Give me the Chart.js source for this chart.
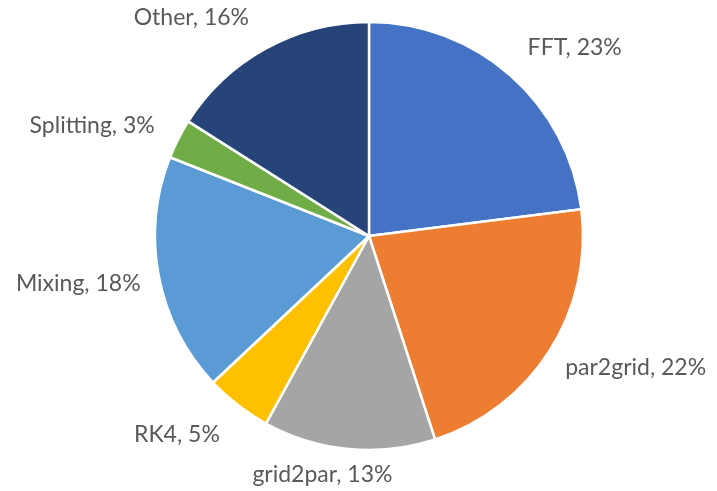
<!DOCTYPE html>
<html>
<head>
<meta charset="utf-8">
<script src="https://cdn.jsdelivr.net/npm/chart.js@4"></script>
<style>
  html, body { margin: 0; padding: 0; background: #fff; }
  #wrap { width: 717px; height: 491px; }
</style>
</head>
<body>
<div id="wrap"><canvas id="pie"></canvas></div>
<script>
const labels = ['FFT', 'par2grid', 'grid2par', 'RK4', 'Mixing', 'Splitting', 'Other'];
const shares = [23, 22, 13, 5, 18, 3, 16];
const colors = ['#4472C4', '#ED7D31', '#A5A5A5', '#FFC000', '#5B9BD5', '#70AD47', '#264478'];

// label nudges away from the plain radial spot (Excel "best fit" placement)
const nudges = [[47, -8], [64, 3], [-24, 0], [-45, 9], [-55, 3], [-63, -1], [-62, -8]];

const outsideLabels = {
  id: 'outsideLabels',
  afterDatasetsDraw(chart) {
    const { ctx } = chart;
    const meta = chart.getDatasetMeta(0);
    ctx.save();
    ctx.font = '23px Lato';
    ctx.fillStyle = '#595959';
    ctx.textAlign = 'center';
    ctx.textBaseline = 'middle';
    meta.data.forEach((arc, i) => {
      const mid = (arc.startAngle + arc.endAngle) / 2;
      const r = arc.outerRadius + 26;
      const x = arc.x + Math.cos(mid) * r + nudges[i][0];
      const y = arc.y + Math.sin(mid) * r + nudges[i][1];
      ctx.fillText(`${labels[i]}, ${shares[i]}%`, x, y);
    });
    ctx.restore();
  },
};

new Chart(document.getElementById('pie'), {
  type: 'pie',
  data: {
    labels,
    datasets: [{
      data: shares,
      backgroundColor: colors,
      borderColor: '#ffffff',
      borderWidth: 2.5,
    }],
  },
  options: {
    responsive: true,
    maintainAspectRatio: false,
    animation: false,
    radius: 214,
    layout: { padding: { left: 155, right: 134, top: 22, bottom: 41 } },
    plugins: { legend: { display: false }, tooltip: { enabled: false } },
  },
  plugins: [outsideLabels],
});
</script>
</body>
</html>
